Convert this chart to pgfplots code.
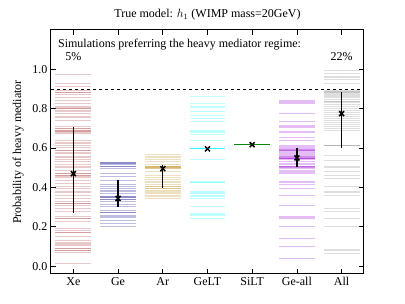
\documentclass[border=0pt]{standalone}
\usepackage{pgfplots}
\pgfplotsset{compat=1.18}
\usepackage{fontspec}
\setmainfont{Liberation Serif}
\definecolor{xecol}{HTML}{A52A2A}
\definecolor{gecol}{HTML}{00008B}
\definecolor{arcol}{HTML}{B8860B}
\definecolor{geltcol}{HTML}{00FFFF}
\definecolor{siltcol}{HTML}{008000}
\definecolor{geallcol}{HTML}{9400D3}
\definecolor{allcol}{HTML}{808080}
\pgfplotsset{
  hlines/.style={draw=none, mark=none, forget plot,
    error bars/.cd, x dir=both, x fixed=0.4, error mark=none,
    error bar style={line width=1.2pt, draw=#1, opacity=0.26}},
}
\begin{document}
\begin{tikzpicture}[font=\fontsize{12}{14}\selectfont]
\path[use as bounding box] (-51pt,-30pt) rectangle (354pt,274pt);
\begin{axis}[
  at={(0,0)}, anchor=south west,
  scale only axis, width=313pt, height=244pt,
  xmin=-0.5, xmax=6.5, ymin=-0.04, ymax=1.2,
  xtick={0,1,2,3,4,5,6},
  xticklabels={Xe,Ge,Ar,GeLT,SiLT,Ge-all,All},
  ytick={0,0.2,0.4,0.6,0.8,1.0},
  yticklabel style={/pgf/number format/.cd, fixed, fixed zerofill, precision=1, assume math mode=true},
  tick align=inside, tick pos=both,
  major tick length=5pt,
  every tick/.style={black, line width=0.8pt},
  axis line style={line width=1pt},
  title={True model: $h_1$ (WIMP mass=20GeV)},
  ylabel={Probability of heavy mediator},
  ylabel style={xshift=0pt, yshift=2pt},
  clip=true,
]
% Xe
\addplot[hlines=xecol] table[x expr=0, y index=0, header=false] {
0.975
0.927
0.914
0.893
0.882
0.882
0.871
0.856
0.843
0.826
0.809
0.800
0.800
0.788
0.775
0.758
0.741
0.711
0.699
0.699
0.687
0.687
0.677
0.640
0.626
0.614
0.602
0.589
0.589
0.575
0.555
0.541
0.530
0.518
0.504
0.487
0.470
0.470
0.462
0.462
0.453
0.436
0.420
0.406
0.394
0.377
0.360
0.343
0.327
0.318
0.318
0.310
0.293
0.276
0.254
0.242
0.242
0.225
0.191
0.179
0.169
0.169
0.149
0.132
0.118
0.107
0.090
0.090
0.081
0.081
0.068
0.014
};
% Ge
\addplot[hlines=gecol] table[x expr=1, y index=0, header=false] {
0.524
0.524
0.518
0.508
0.508
0.496
0.470
0.457
0.437
0.416
0.406
0.394
0.382
0.369
0.355
0.355
0.347
0.347
0.338
0.338
0.327
0.315
0.301
0.281
0.271
0.271
0.259
0.250
0.230
0.217
0.200
};
% Ar
\addplot[hlines=arcol] table[x expr=2, y index=0, header=false] {
0.569
0.555
0.541
0.530
0.518
0.504
0.504
0.504
0.496
0.496
0.479
0.462
0.450
0.440
0.428
0.416
0.403
0.403
0.394
0.394
0.382
0.372
0.360
0.352
0.345
};
% GeLT
\addplot[hlines=geltcol] table[x expr=3, y index=0, header=false] {
0.860
0.826
0.809
0.784
0.767
0.750
0.733
0.690
0.682
0.670
0.640
0.598
0.598
0.598
0.598
0.598
0.598
0.540
0.428
0.423
0.377
0.369
0.360
0.352
0.344
0.302
0.268
0.260
0.243
};
% SiLT
\addplot[hlines=siltcol] table[x expr=4, y index=0, header=false] {
0.617
0.617
0.617
0.617
0.617
0.617
0.617
0.617
0.617
0.617
};
% Ge-all
\addplot[hlines=geallcol] table[x expr=5, y index=0, header=false] {
0.839
0.829
0.775
0.733
0.716
0.707
0.682
0.653
0.640
0.614
0.605
0.598
0.590
0.590
0.585
0.575
0.568
0.560
0.555
0.550
0.547
0.547
0.547
0.545
0.540
0.530
0.522
0.515
0.508
0.504
0.504
0.495
0.487
0.478
0.470
0.428
0.416
0.394
0.360
0.310
0.250
0.242
0.200
0.140
0.098
0.039
};
% All
\addplot[hlines=allcol] table[x expr=6, y index=0, header=false] {
0.995
0.978
0.961
0.949
0.930
0.894
0.885
0.885
0.875
0.865
0.855
0.845
0.838
0.838
0.830
0.820
0.810
0.800
0.790
0.780
0.770
0.760
0.750
0.740
0.730
0.720
0.710
0.700
0.690
0.614
0.614
0.614
0.563
0.538
0.504
0.479
0.462
0.445
0.403
0.377
0.360
0.293
0.276
0.242
0.200
0.082
0.064
};
% threshold
\addplot[black, dashed, line width=1pt, forget plot] coordinates {(-0.5,0.9) (6.5,0.9)};
% means with error bars
\addplot[black, only marks, mark=x, mark size=3.5pt, line width=1.5pt,
  error bars/.cd, y dir=both, y explicit, error mark=none,
  error bar style={line width=1.2pt, black}]
  table[x=x, y=y, y error plus=ep, y error minus=em] {
x y ep em
0 0.470 0.237 0.198
1 0.344 0.096 0.044
2 0.495 0.018 0.098
3 0.596 0.000 0.000
4 0.617 0.000 0.000
5 0.550 0.050 0.046
6 0.775 0.110 0.175
};
\node[anchor=west] at (axis cs:-0.42,1.125) {Simulations preferring the heavy mediator regime:};
\node at (axis cs:0,1.065) {5\%};
\node at (axis cs:6,1.065) {22\%};
\end{axis}
\end{tikzpicture}
\end{document}
